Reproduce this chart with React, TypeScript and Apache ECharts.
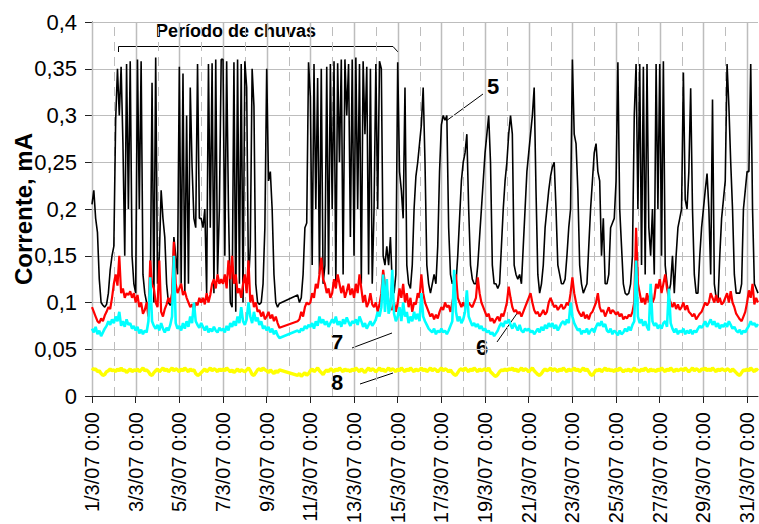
import React, { useEffect, useRef } from "react";
import * as echarts from "echarts";

// sampling: one value every 2 hours, starting 1/3/07 0:00 (x axis in days since 1/3/07)
const STEP_HOURS = 2;
const X_TICKS = [0, 2, 4, 6, 8, 10, 12, 14, 16, 18, 20, 22, 24, 26, 28, 30];
const GRID_DAYS = Array.from({ length: 31 }, (_, i) => i);
const Y_MAX = 0.4;

// Série 5 (preta)
const serie5: (number | null)[] = [
  0.205, 0.22, 0.19, 0.175, 0.125, 0.1, 0.097, 0.095, 0.098, 0.11, 0.135, 0.15,
  0.16, 0.295, 0.35, 0.3, 0.352, 0.27, 0.15, 0.355, 0.2, 0.358, 0.15, 0.12,
  0.11, 0.36, 0.2, 0.358, 0.13, 0.11, 0.1, 0.098, 0.1, 0.335, 0.1, 0.362,
  0.12, 0.15, 0.22, 0.19, 0.17, 0.12, 0.1, 0.097, 0.1, 0.17, 0.15, 0.13,
  0.352, 0.12, 0.345, 0.11, 0.3, 0.12, 0.33, 0.245, 0.19, 0.18, 0.355, 0.19,
  0.19, 0.18, 0.2, 0.11, 0.355, 0.18, 0.356, 0.11, 0.36, 0.13, 0.2, 0.36,
  0.36, 0.15, 0.358, 0.2, 0.1, 0.095, 0.357, 0.09, 0.36, 0.12, 0.355, 0.1,
  0.358, 0.33, 0.12, 0.16, 0.35, 0.31, 0.12, 0.1, 0.098, 0.1, 0.12, 0.18,
  0.35, 0.23, 0.24, 0.2, 0.13, 0.1, 0.095, 0.099, null, null, null, null,
  null, null, null, null, null, 0.108, 0.1, 0.105, 0.13, 0.18, 0.185, 0.357,
  0.32, 0.14, 0.355, 0.2, 0.34, 0.13, 0.35, 0.12, 0.14, 0.352, 0.13, 0.355,
  0.2, 0.358, 0.12, 0.356, 0.25, 0.36, 0.13, 0.36, 0.3, 0.355, 0.17, 0.36,
  0.15, 0.362, 0.2, 0.355, 0.12, 0.358, 0.28, 0.352, 0.13, 0.35, 0.12, 0.2,
  0.355, 0.2, 0.358, 0.35, 0.15, 0.14, 0.16, 0.14, 0.17, 0.12, 0.11, 0.13,
  0.357, 0.24, 0.22, 0.19, 0.33, 0.14, 0.12, 0.115, 0.14, 0.2, 0.235, 0.25,
  0.27, 0.29, 0.33, 0.25, 0.14, 0.12, 0.11, 0.12, 0.13, 0.12, 0.16, 0.24,
  0.29, 0.3, 0.295, 0.3, 0.18, 0.13, 0.12, 0.125, 0.12, 0.15, 0.19, 0.23,
  0.25, 0.26, 0.28, 0.2, 0.14, 0.125, 0.12, 0.12, 0.14, 0.17, 0.2, 0.23,
  0.26, 0.28, 0.3, 0.25, 0.14, 0.12, 0.12, 0.115, 0.12, 0.16, 0.2, 0.23,
  0.25, 0.28, 0.3, 0.28, 0.14, 0.13, 0.125, 0.13, 0.12, 0.16, 0.2, 0.24,
  0.26, 0.28, 0.3, 0.33, 0.22, 0.13, 0.11, 0.12, 0.14, 0.18, 0.2, 0.22,
  0.235, 0.245, 0.25, 0.2, 0.14, 0.13, 0.12, 0.12, 0.125, 0.15, 0.18, 0.2,
  0.36, 0.28, 0.27, 0.22, 0.14, 0.12, 0.11, 0.115, 0.12, 0.16, 0.2, 0.23,
  0.26, 0.27, 0.24, 0.23, 0.15, 0.19, 0.12, 0.12, 0.13, 0.18, 0.185, 0.19,
  0.23, 0.357, 0.2, 0.16, 0.12, 0.11, 0.108, 0.11, 0.12, 0.15, 0.3, 0.355,
  0.2, 0.355, 0.14, 0.352, 0.13, 0.355, 0.18, 0.15, 0.2, 0.13, 0.355, 0.2,
  0.355, 0.15, 0.358, 0.14, 0.12, 0.11, 0.12, 0.15, 0.11, 0.15, 0.18, 0.19,
  0.2, 0.346, 0.21, 0.2, 0.24, 0.329, 0.2, 0.13, 0.11, 0.11, 0.15, 0.18,
  0.2, 0.22, 0.238, 0.2, 0.13, 0.317, 0.12, 0.105, 0.1, 0.15, 0.19, 0.21,
  0.23, 0.355, 0.31, 0.25, 0.2, 0.13, 0.11, 0.11, 0.11, 0.12, 0.2, 0.22,
  0.24, 0.24, 0.355, 0.2, 0.12, 0.115, 0.11,
];

// Série 6 (vermelha)
const serie6: (number | null)[] = [
  0.095, 0.09, 0.085, 0.08, 0.078, 0.083, 0.08, 0.086, 0.09, 0.095, 0.093, 0.105,
  0.12, 0.13, 0.118, 0.15, 0.11, 0.115, 0.105, 0.11, 0.108, 0.112, 0.105, 0.11,
  0.1, 0.108, 0.095, 0.1, 0.088, 0.092, 0.1, 0.085, 0.145, 0.12, 0.115, 0.1,
  0.095, 0.145, 0.09, 0.085, 0.093, 0.098, 0.105, 0.1, 0.11, 0.165, 0.12, 0.11,
  0.115, 0.12, 0.108, 0.112, 0.105, 0.1, 0.095, 0.098, 0.092, 0.1, 0.097, 0.105,
  0.1, 0.105, 0.098, 0.11, 0.1, 0.108, 0.12, 0.125, 0.115, 0.13, 0.12, 0.125,
  0.12, 0.13, 0.115, 0.145, 0.125, 0.15, 0.12, 0.13, 0.11, 0.115, 0.105, 0.12,
  0.13, 0.11, 0.145, 0.1, 0.108, 0.095, 0.1, 0.09, 0.092, 0.085, 0.09, 0.082,
  0.085, 0.09, 0.083, 0.087, 0.08, 0.085, 0.078, 0.073, null, null, null, null,
  null, null, null, null, null, 0.08, 0.082, 0.09, 0.085, 0.095, 0.1, 0.098,
  0.1, 0.11, 0.105, 0.12, 0.115, 0.13, 0.148, 0.125, 0.12, 0.11, 0.115, 0.105,
  0.11, 0.125, 0.115, 0.13, 0.12, 0.11, 0.118, 0.105, 0.112, 0.12, 0.108, 0.115,
  0.105, 0.12, 0.11, 0.13, 0.115, 0.1, 0.108, 0.095, 0.1, 0.11, 0.098, 0.095,
  0.1, 0.09, 0.098, 0.11, 0.135, 0.12, 0.115, 0.1, 0.095, 0.092, 0.1, 0.09,
  0.1, 0.115, 0.105, 0.12, 0.1, 0.11, 0.095, 0.105, 0.09, 0.1, 0.098, 0.11,
  0.105, 0.13, 0.11, 0.1, 0.095, 0.09, 0.085, 0.088, 0.082, 0.087, 0.083, 0.09,
  0.095, 0.092, 0.1, 0.095, 0.097, 0.09, 0.1, 0.11, 0.13, 0.105, 0.1, 0.095,
  0.1, 0.095, 0.098, 0.1, 0.097, 0.095, 0.1, 0.105, 0.127, 0.11, 0.1, 0.095,
  0.09, 0.085, 0.088, 0.08, 0.083, 0.078, 0.082, 0.085, 0.08, 0.088, 0.085, 0.092,
  0.1, 0.117, 0.105, 0.095, 0.09, 0.092, 0.088, 0.09, 0.085, 0.09, 0.095, 0.1,
  0.105, 0.11, 0.1, 0.092, 0.088, 0.09, 0.085, 0.088, 0.092, 0.087, 0.09, 0.1,
  0.105, 0.1, 0.095, 0.097, 0.092, 0.095, 0.098, 0.093, 0.095, 0.1, 0.097, 0.11,
  0.127, 0.11, 0.1, 0.092, 0.088, 0.085, 0.09, 0.083, 0.087, 0.082, 0.088, 0.09,
  0.095, 0.1, 0.11, 0.095, 0.09, 0.092, 0.085, 0.09, 0.095, 0.088, 0.092, 0.09,
  0.087, 0.09, 0.085, 0.088, 0.082, 0.085, 0.083, 0.087, 0.085, 0.09, 0.1, 0.18,
  0.12, 0.11, 0.1, 0.105, 0.098, 0.11, 0.1, 0.112, 0.1, 0.105, 0.12, 0.115,
  0.125, 0.11, 0.12, 0.13, 0.115, 0.105, 0.1, 0.095, 0.1, 0.093, 0.098, 0.092,
  0.095, 0.1, 0.092, 0.097, 0.09, 0.088, 0.085, 0.088, 0.082, 0.085, 0.088, 0.09,
  0.095, 0.1, 0.097, 0.1, 0.11, 0.105, 0.1, 0.108, 0.1, 0.105, 0.098, 0.1,
  0.105, 0.11, 0.1, 0.112, 0.1, 0.095, 0.088, 0.085, 0.082, 0.08, 0.085, 0.09,
  0.1, 0.113, 0.105, 0.12, 0.098, 0.105, 0.1,
];

// Série 7 (ciano)
const serie7: (number | null)[] = [
  0.072, 0.068, 0.074, 0.066, 0.07, 0.064, 0.068, 0.072, 0.075, 0.08, 0.076, 0.082,
  0.078, 0.085, 0.08, 0.09, 0.075, 0.08, 0.074, 0.082, 0.076, 0.078, 0.072, 0.075,
  0.07, 0.074, 0.067, 0.071, 0.066, 0.07, 0.068, 0.08, 0.127, 0.08, 0.075, 0.072,
  0.076, 0.07, 0.078, 0.072, 0.068, 0.073, 0.07, 0.076, 0.085, 0.15, 0.078, 0.072,
  0.075, 0.07, 0.078, 0.072, 0.08, 0.074, 0.085, 0.078, 0.1, 0.08, 0.076, 0.073,
  0.078, 0.074, 0.07, 0.075, 0.068, 0.072, 0.069, 0.074, 0.07, 0.068, 0.073, 0.07,
  0.072, 0.068, 0.075, 0.07, 0.078, 0.074, 0.08, 0.075, 0.085, 0.078, 0.095, 0.08,
  0.076, 0.082, 0.1, 0.085, 0.078, 0.09, 0.08, 0.084, 0.076, 0.08, 0.072, 0.075,
  0.07, 0.074, 0.068, 0.072, 0.066, 0.07, 0.065, 0.062, null, null, null, null,
  null, null, null, null, null, 0.07, 0.068, 0.072, 0.07, 0.075, 0.072, 0.076,
  0.074, 0.078, 0.072, 0.08, 0.075, 0.085, 0.078, 0.082, 0.076, 0.08, 0.074, 0.078,
  0.082, 0.078, 0.085, 0.076, 0.08, 0.074, 0.082, 0.077, 0.084, 0.079, 0.075, 0.08,
  0.078, 0.082, 0.076, 0.085, 0.08, 0.074, 0.078, 0.072, 0.076, 0.08, 0.075, 0.078,
  0.082, 0.09, 0.085, 0.095, 0.13, 0.09, 0.125, 0.088, 0.095, 0.135, 0.088, 0.08,
  0.085, 0.095, 0.08, 0.1, 0.085, 0.09, 0.078, 0.085, 0.08, 0.09, 0.082, 0.088,
  0.08, 0.11, 0.085, 0.08, 0.076, 0.072, 0.07, 0.068, 0.072, 0.066, 0.07, 0.068,
  0.072, 0.068, 0.07, 0.066, 0.07, 0.075, 0.08, 0.135, 0.09, 0.08, 0.085, 0.078,
  0.082, 0.09, 0.113, 0.085, 0.08, 0.075, 0.078, 0.074, 0.077, 0.072, 0.075, 0.07,
  0.072, 0.068, 0.07, 0.066, 0.068, 0.064, 0.067, 0.07, 0.075, 0.078, 0.074, 0.08,
  0.078, 0.082, 0.076, 0.072, 0.078, 0.074, 0.07, 0.076, 0.07, 0.068, 0.072, 0.07,
  0.072, 0.068, 0.07, 0.066, 0.069, 0.072, 0.068, 0.074, 0.07, 0.076, 0.072, 0.078,
  0.074, 0.078, 0.072, 0.076, 0.07, 0.074, 0.078, 0.08, 0.076, 0.082, 0.078, 0.1,
  0.085, 0.078, 0.074, 0.07, 0.072, 0.066, 0.07, 0.068, 0.072, 0.066, 0.07, 0.072,
  0.068, 0.074, 0.078, 0.075, 0.08, 0.074, 0.077, 0.07, 0.068, 0.072, 0.066, 0.07,
  0.068, 0.065, 0.07, 0.066, 0.068, 0.072, 0.069, 0.074, 0.07, 0.076, 0.08, 0.145,
  0.085, 0.078, 0.082, 0.075, 0.08, 0.074, 0.07, 0.12, 0.08, 0.075, 0.078, 0.072,
  0.076, 0.072, 0.078, 0.08, 0.074, 0.115, 0.078, 0.072, 0.068, 0.072, 0.066, 0.07,
  0.068, 0.072, 0.066, 0.07, 0.067, 0.071, 0.066, 0.07, 0.068, 0.072, 0.075, 0.073,
  0.076, 0.08, 0.074, 0.078, 0.082, 0.076, 0.08, 0.074, 0.078, 0.072, 0.076, 0.074,
  0.078, 0.074, 0.08, 0.076, 0.072, 0.074, 0.07, 0.068, 0.071, 0.066, 0.07, 0.068,
  0.072, 0.075, 0.08, 0.076, 0.078, 0.074, 0.077,
];

// Série 8 (amarela)
const serie8: (number | null)[] = [
  0.03, 0.028, 0.029, 0.026, 0.027, 0.024, 0.022, 0.023, 0.026, 0.027, 0.029, 0.027,
  0.028, 0.026, 0.029, 0.027, 0.03, 0.027, 0.028, 0.025, 0.027, 0.029, 0.026, 0.028,
  0.027, 0.029, 0.026, 0.028, 0.03, 0.027, 0.028, 0.026, 0.023, 0.022, 0.025, 0.027,
  0.029, 0.026, 0.028, 0.03, 0.027, 0.029, 0.026, 0.028, 0.03, 0.027, 0.029, 0.028,
  0.026, 0.029, 0.027, 0.03, 0.028, 0.026, 0.029, 0.027, 0.028, 0.024, 0.022, 0.023,
  0.025, 0.027, 0.029, 0.026, 0.028, 0.03, 0.027, 0.029, 0.028, 0.026, 0.029, 0.027,
  0.029, 0.027, 0.03, 0.028, 0.026, 0.028, 0.025, 0.027, 0.029, 0.026, 0.028, 0.027,
  0.026, 0.028, 0.03, 0.027, 0.023, 0.022, 0.025, 0.028, 0.029, 0.027, 0.03, 0.028,
  0.027, 0.025, 0.028, 0.026, 0.024, 0.027, 0.025, 0.028, null, null, null, null,
  null, null, null, null, null, 0.022, 0.024, 0.021, 0.023, 0.025, 0.022, 0.024,
  0.027, 0.029, 0.026, 0.028, 0.03, 0.027, 0.025, 0.023, 0.026, 0.028, 0.026, 0.029,
  0.028, 0.026, 0.029, 0.027, 0.03, 0.028, 0.026, 0.029, 0.027, 0.028, 0.026, 0.029,
  0.027, 0.03, 0.028, 0.026, 0.029, 0.027, 0.025, 0.028, 0.03, 0.027, 0.029, 0.028,
  0.026, 0.028, 0.03, 0.027, 0.029, 0.026, 0.028, 0.03, 0.027, 0.029, 0.028, 0.026,
  0.029, 0.027, 0.03, 0.028, 0.026, 0.029, 0.027, 0.03, 0.028, 0.026, 0.029, 0.027,
  0.028, 0.03, 0.027, 0.029, 0.026, 0.028, 0.03, 0.027, 0.029, 0.028, 0.026, 0.028,
  0.03, 0.027, 0.029, 0.028, 0.026, 0.028, 0.025, 0.023, 0.022, 0.025, 0.028, 0.029,
  0.027, 0.03, 0.028, 0.026, 0.029, 0.027, 0.03, 0.028, 0.026, 0.029, 0.027, 0.028,
  0.029, 0.027, 0.03, 0.026, 0.024, 0.022, 0.021, 0.023, 0.026, 0.028, 0.027, 0.029,
  0.027, 0.029, 0.028, 0.03, 0.027, 0.029, 0.026, 0.028, 0.03, 0.027, 0.029, 0.028,
  0.026, 0.028, 0.03, 0.027, 0.025, 0.023, 0.022, 0.024, 0.027, 0.029, 0.027, 0.028,
  0.03, 0.027, 0.029, 0.028, 0.026, 0.029, 0.027, 0.03, 0.028, 0.026, 0.029, 0.027,
  0.028, 0.03, 0.027, 0.029, 0.026, 0.028, 0.03, 0.027, 0.029, 0.026, 0.023, 0.022,
  0.025, 0.028, 0.027, 0.029, 0.026, 0.028, 0.03, 0.027, 0.029, 0.027, 0.028, 0.026,
  0.029, 0.027, 0.03, 0.028, 0.026, 0.028, 0.027, 0.029, 0.026, 0.028, 0.03, 0.027,
  0.028, 0.026, 0.029, 0.027, 0.03, 0.028, 0.026, 0.029, 0.027, 0.028, 0.026, 0.029,
  0.027, 0.03, 0.028, 0.026, 0.029, 0.027, 0.03, 0.028, 0.026, 0.029, 0.027, 0.028,
  0.029, 0.027, 0.03, 0.028, 0.026, 0.028, 0.03, 0.027, 0.029, 0.028, 0.026, 0.029,
  0.028, 0.03, 0.027, 0.029, 0.027, 0.03, 0.028, 0.026, 0.029, 0.027, 0.029, 0.028,
  0.027, 0.029, 0.028, 0.026, 0.029, 0.027, 0.025, 0.023, 0.022, 0.025, 0.028, 0.027,
  0.029, 0.027, 0.03, 0.028, 0.026, 0.029, 0.027,
];

const FONT = '"Liberation Sans", Arial, Helvetica, sans-serif';

const toPairs = (vals: (number | null)[]) =>
  vals.map((v, i) => [(i * STEP_HOURS) / 24, v]);

const fmtDay = (v: number) => (Number.isInteger(v) ? `${v + 1}/3/07 0:00` : "");
const fmtY = (v: number) => String(Math.round(v * 100) / 100).replace(".", ",");

export default function App() {
  const ref = useRef<HTMLDivElement>(null);

  useEffect(() => {
    if (!ref.current) return;
    const chart = echarts.init(ref.current, null, { renderer: "svg" });
    const lineSeries = (name: string, vals: (number | null)[], color: string, width: number, z: number) => ({
      name,
      type: "line",
      data: toPairs(vals),
      showSymbol: false,
      symbol: "none",
      connectNulls: true,
      silent: true,
      z,
      lineStyle: { color, width, join: "bevel" },
      itemStyle: { color },
    });
    chart.setOption({
      animation: false,
      backgroundColor: "#fff",
      textStyle: { fontFamily: FONT },
      grid: {
        left: 92,
        right: 1,
        top: 22,
        bottom: 128,
        containLabel: false,
        outerBoundsMode: "none",
      },
      xAxis: {
        type: "value",
        min: 0,
        max: 30.5,
        interval: 2,
        splitLine: { show: false },
        axisLine: { show: true, lineStyle: { color: "#222", width: 1 } },
        axisTick: { show: true, length: 7, customValues: X_TICKS, lineStyle: { color: "#222" } },
        axisLabel: {
          customValues: X_TICKS,
          rotate: 90,
          margin: 16,
          fontSize: 20,
          color: "#000",
          fontFamily: FONT,
          formatter: fmtDay,
        },
      },
      yAxis: {
        type: "value",
        min: 0,
        max: Y_MAX,
        interval: 0.05,
        name: "Corrente, mA",
        nameLocation: "middle",
        nameGap: 57,
        nameMoveOverlap: false,
        nameTextStyle: { fontSize: 24, fontWeight: "bold", color: "#000", fontFamily: FONT },
        axisLine: { show: true, lineStyle: { color: "#222", width: 1 } },
        axisTick: { show: true, length: 7, lineStyle: { color: "#222" } },
        axisLabel: { fontSize: 22, color: "#000", margin: 15, fontFamily: FONT, formatter: fmtY },
        splitLine: { show: true, lineStyle: { color: "#bdbdbd", width: 1 } },
      },
      series: [
        {
          type: "custom",
          z: 1,
          silent: true,
          data: GRID_DAYS.map((d) => [d, 0]),
          renderItem: (_params: any, api: any) => {
            const d = api.value(0);
            const p0 = api.coord([d, 0]);
            const p1 = api.coord([d, Y_MAX]);
            const x = Math.round(p0[0]) + 0.5;
            return {
              type: "line",
              shape: { x1: x, y1: p0[1], x2: x, y2: p1[1] },
              style: {
                stroke: "#bdbdbd",
                lineWidth: d % 2 === 0 ? 1.5 : 1,
                lineDash: d % 2 === 0 ? null : [9, 6],
              },
            };
          },
        },
        lineSeries("5", serie5, "#000000", 1.6, 2),
        lineSeries("6", serie6, "#ff0000", 2.2, 3),
        lineSeries("7", serie7, "#00ffff", 2.6, 4),
        lineSeries("8", serie8, "#ffff00", 3.4, 5),
      ],
      graphic: [
        {
          type: "text",
          x: 236,
          y: 31,
          style: {
            text: "Período de chuvas",
            font: `bold 18px ${FONT}`,
            fill: "#000",
            align: "center",
            verticalAlign: "middle",
            textAlign: "center",
            textVerticalAlign: "middle",
          },
        },
        {
          type: "polyline",
          shape: { points: [[118.5, 52], [118.5, 46.5], [393, 46.5], [398, 52]] },
          style: { stroke: "#000", lineWidth: 1, fill: "none" },
        },
        ...[
          { t: "5", x: 493, y: 86 },
          { t: "6", x: 482, y: 347 },
          { t: "7", x: 337, y: 342 },
          { t: "8", x: 337, y: 382 },
        ].map((l) => ({
          type: "text",
          x: l.x,
          y: l.y,
          style: {
            text: l.t,
            font: `bold 22px ${FONT}`,
            fill: "#000",
            align: "center",
            verticalAlign: "middle",
            textAlign: "center",
            textVerticalAlign: "middle",
          },
        })),
        ...[
          [483, 94, 446, 121],
          [497, 342, 518, 312],
          [352, 348, 392, 333],
          [360, 384, 393, 373],
        ].map((s) => ({
          type: "line",
          shape: { x1: s[0], y1: s[1], x2: s[2], y2: s[3] },
          style: { stroke: "#000", lineWidth: 1 },
        })),
      ],
    });
    return () => chart.dispose();
  }, []);

  return (
    <div
      ref={ref}
      style={{ position: "fixed", left: 0, top: 0, width: 759, height: 524, background: "#fff" }}
    />
  );
}
